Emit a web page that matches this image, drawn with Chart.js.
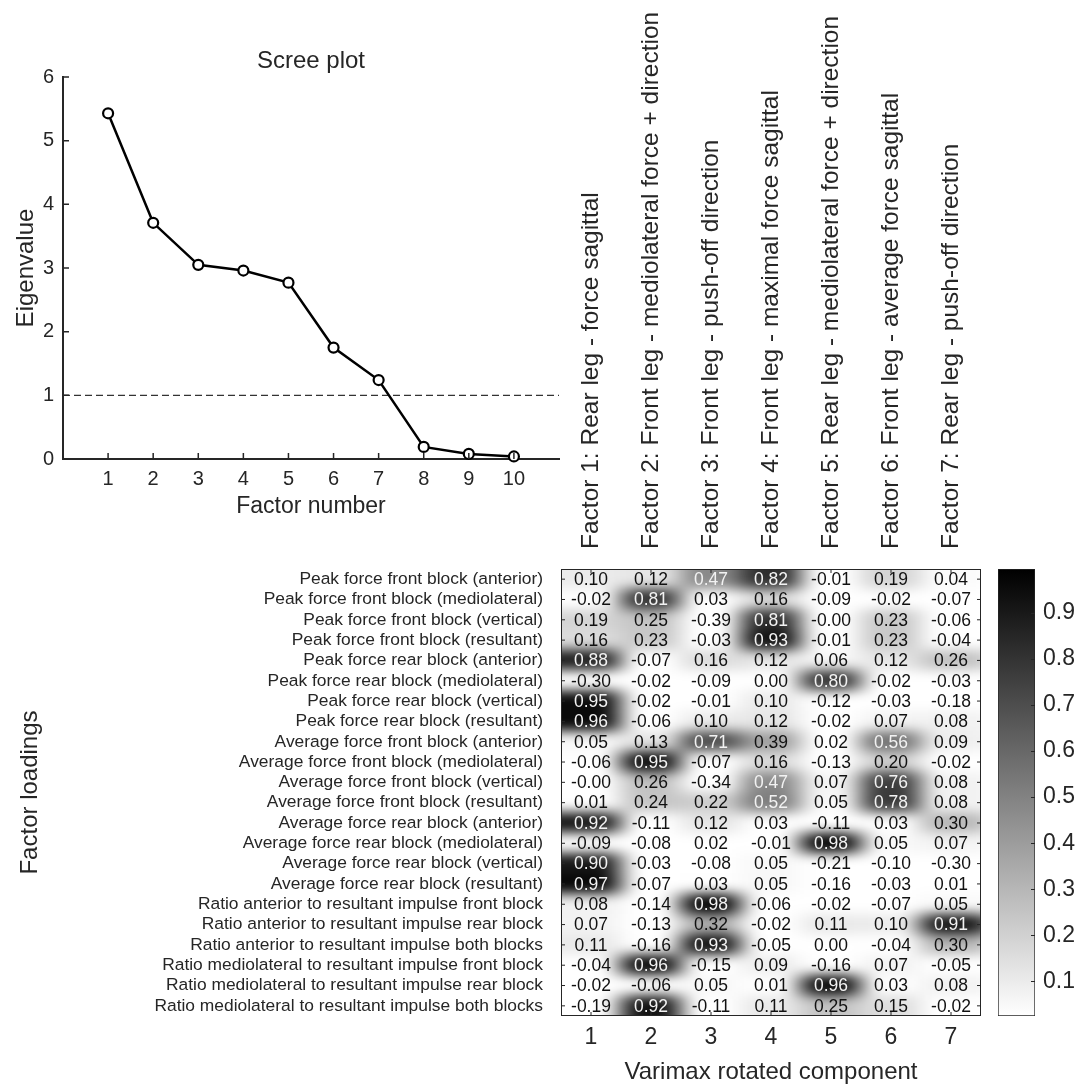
<!DOCTYPE html>
<html>
<head>
<meta charset="utf-8">
<script src="https://cdn.jsdelivr.net/npm/chart.js@4.4.1/dist/chart.umd.min.js"></script>
<style>
  html, body { margin: 0; padding: 0; background: #fff; overflow: hidden; }
  #page { position: relative; width: 1086px; height: 1084px; }
  canvas { position: absolute; }
</style>
</head>
<body>
<div id="page">
  <canvas id="heat" width="990" height="1100" style="left:0;top:0"></canvas>
  <canvas id="cbar" width="96" height="500" style="left:990px;top:540px"></canvas>
  <canvas id="scree" width="570" height="530" style="left:0;top:0"></canvas>
</div>
<script>
// scree plot values
const factorNumbers = [1, 2, 3, 4, 5, 6, 7, 8, 9, 10];
const eigenvalues = [5.43, 3.71, 3.05, 2.96, 2.77, 1.75, 1.24, 0.19, 0.08, 0.04];
const kaiserLevel = 1;

// loadings heatmap
const components = ['1', '2', '3', '4', '5', '6', '7'];
const factorNames = [
  'Factor 1: Rear leg - force sagittal',
  'Factor 2: Front leg - mediolateral force + direction',
  'Factor 3: Front leg - push-off direction',
  'Factor 4: Front leg - maximal force sagittal',
  'Factor 5: Rear leg - mediolateral force + direction',
  'Factor 6: Front leg - average force sagittal',
  'Factor 7: Rear leg - push-off direction'
];
const variables = [
  'Peak force front block (anterior)',
  'Peak force front block (mediolateral)',
  'Peak force front block (vertical)',
  'Peak force front block (resultant)',
  'Peak force rear block (anterior)',
  'Peak force rear block (mediolateral)',
  'Peak force rear block (vertical)',
  'Peak force rear block (resultant)',
  'Average force front block (anterior)',
  'Average force front block (mediolateral)',
  'Average force front block (vertical)',
  'Average force front block (resultant)',
  'Average force rear block (anterior)',
  'Average force rear block (mediolateral)',
  'Average force rear block (vertical)',
  'Average force rear block (resultant)',
  'Ratio anterior to resultant impulse front block',
  'Ratio anterior to resultant impulse rear block',
  'Ratio anterior to resultant impulse both blocks',
  'Ratio mediolateral to resultant impulse front block',
  'Ratio mediolateral to resultant impulse rear block',
  'Ratio mediolateral to resultant impulse both blocks'
];
const loadings = [
  [0.10, 0.12, 0.47, 0.82, -0.01, 0.19, 0.04],
  [-0.02, 0.81, 0.03, 0.16, -0.09, -0.02, -0.07],
  [0.19, 0.25, -0.39, 0.81, -0.00, 0.23, -0.06],
  [0.16, 0.23, -0.03, 0.93, -0.01, 0.23, -0.04],
  [0.88, -0.07, 0.16, 0.12, 0.06, 0.12, 0.26],
  [-0.30, -0.02, -0.09, 0.00, 0.80, -0.02, -0.03],
  [0.95, -0.02, -0.01, 0.10, -0.12, -0.03, -0.18],
  [0.96, -0.06, 0.10, 0.12, -0.02, 0.07, 0.08],
  [0.05, 0.13, 0.71, 0.39, 0.02, 0.56, 0.09],
  [-0.06, 0.95, -0.07, 0.16, -0.13, 0.20, -0.02],
  [-0.00, 0.26, -0.34, 0.47, 0.07, 0.76, 0.08],
  [0.01, 0.24, 0.22, 0.52, 0.05, 0.78, 0.08],
  [0.92, -0.11, 0.12, 0.03, -0.11, 0.03, 0.30],
  [-0.09, -0.08, 0.02, -0.01, 0.98, 0.05, 0.07],
  [0.90, -0.03, -0.08, 0.05, -0.21, -0.10, -0.30],
  [0.97, -0.07, 0.03, 0.05, -0.16, -0.03, 0.01],
  [0.08, -0.14, 0.98, -0.06, -0.02, -0.07, 0.05],
  [0.07, -0.13, 0.32, -0.02, 0.11, 0.10, 0.91],
  [0.11, -0.16, 0.93, -0.05, 0.00, -0.04, 0.30],
  [-0.04, 0.96, -0.15, 0.09, -0.16, 0.07, -0.05],
  [-0.02, -0.06, 0.05, 0.01, 0.96, 0.03, 0.08],
  [-0.19, 0.92, -0.11, 0.11, 0.25, 0.15, -0.02]
];
const colorbarTicks = [0.1, 0.2, 0.3, 0.4, 0.5, 0.6, 0.7, 0.8, 0.9];
const CMIN = 0.025, CMAX = 0.995;

const ink = '#262626';
Chart.defaults.font.family = "'Liberation Sans', Arial, Helvetica, sans-serif";
Chart.defaults.color = ink;
Chart.defaults.animation = false;
Chart.defaults.plugins.legend.display = false;
Chart.defaults.plugins.tooltip.enabled = false;

function shade(v) {
    let t = (v - CMIN) / (CMAX - CMIN);
    t = Math.min(1, Math.max(0, t));
    let g = Math.round(255 * (1 - t));
    return 'rgb(' + g + ',' + g + ',' + g + ')';
}
function fmt(v) {
    return (v < 0 || Object.is(v, -0) ? '-' : '') + Math.abs(v).toFixed(2);
}

/////SCREE PLOT
const screeTicks = {
    id: 'screeTicks',
    afterDraw(chart) {
        const {ctx, chartArea: a, scales: {x, y}} = chart;
        ctx.save();
        ctx.strokeStyle = ink;
        ctx.lineWidth = 1.5;
        ctx.beginPath();
        x.ticks.forEach(t => {
            let px = x.getPixelForValue(t.value);
            ctx.moveTo(px, a.bottom); ctx.lineTo(px, a.bottom - 6);
        });
        y.ticks.forEach(t => {
            let py = y.getPixelForValue(t.value);
            ctx.moveTo(a.left, py); ctx.lineTo(a.left + 6, py);
        });
        ctx.stroke();
        ctx.restore();
    }
};

new Chart(document.getElementById('scree'), {
    type: 'line',
    data: {
        datasets: [{
            data: factorNumbers.map((f, i) => ({x: f, y: eigenvalues[i]})),
            borderColor: '#000',
            borderWidth: 2.5,
            pointRadius: 5,
            pointBorderWidth: 2.2,
            pointBackgroundColor: '#fff',
            pointBorderColor: '#000',
            clip: false
        }, {
            data: [{x: 0, y: kaiserLevel}, {x: 11, y: kaiserLevel}],
            borderColor: '#333',
            borderWidth: 1.2,
            borderDash: [7, 4],
            pointRadius: 0
        }]
    },
    options: {
        responsive: false,
        devicePixelRatio: 1,
        layout: {padding: {left: 0, right: 11, top: 0, bottom: 0}},
        plugins: {
            title: {
                display: true, text: 'Scree plot', fullSize: false, color: ink,
                font: {size: 24, weight: 'normal'}, padding: {top: 46.6, bottom: 1.6}
            }
        },
        scales: {
            x: {
                type: 'linear', min: 0, max: 11,
                afterBuildTicks: s => { s.ticks = factorNumbers.map(v => ({value: v})); },
                ticks: {font: {size: 20}, padding: 8, color: ink},
                grid: {display: false, drawTicks: false},
                border: {color: ink, width: 2},
                title: {display: true, text: 'Factor number', color: ink, font: {size: 23}, padding: {top: 0, bottom: 10}},
                afterFit: s => { s.height = 71; }
            },
            y: {
                min: 0, max: 6,
                ticks: {stepSize: 1, font: {size: 20}, padding: 9, color: ink},
                grid: {display: false, drawTicks: false},
                border: {color: ink, width: 2},
                title: {display: true, text: 'Eigenvalue', color: ink, font: {size: 24}, padding: {top: 11.6, bottom: 0}},
                afterFit: s => { s.width = 63; }
            }
        }
    },
    plugins: [screeTicks]
});
/////END SCREE PLOT

/////HEATMAP
let cells = [];
variables.forEach((name, r) => {
    components.forEach((c, j) => {
        cells.push({x: c, y: name, v: loadings[r][j], r: r, c: j});
    });
});

const heatCells = {
    id: 'heatCells',
    beforeDatasetsDraw(chart) {
        const {ctx, chartArea: a} = chart;
        const meta = chart.getDatasetMeta(0);
        const cw = (a.right - a.left) / components.length;
        const rh = (a.bottom - a.top) / variables.length;
        const W = chart.width, H = chart.height;
        const off = document.createElement('canvas');
        off.width = W; off.height = H;
        const o = off.getContext('2d');
        meta.data.forEach((el, i) => {
            const d = cells[i];
            let x0 = el.x - cw / 2 - 0.5, x1 = el.x + cw / 2 + 0.5;
            let y0 = el.y - rh / 2 - 0.5, y1 = el.y + rh / 2 + 0.5;
            if (d.c === 0) x0 -= 50;
            if (d.c === components.length - 1) x1 += 50;
            if (d.r === 0) y0 -= 30;
            if (d.r === variables.length - 1) y1 += 30;
            o.fillStyle = shade(d.v);
            o.fillRect(x0, y0, x1 - x0, y1 - y0);
        });
        // squeeze horizontally, blur, stretch back: wider smoothing along rows
        const half = document.createElement('canvas');
        half.width = Math.round(W / 2); half.height = H;
        const h = half.getContext('2d');
        h.filter = 'blur(6px)';
        h.drawImage(off, 0, 0, half.width, H);
        ctx.save();
        ctx.beginPath();
        ctx.rect(a.left, a.top, a.right - a.left, a.bottom - a.top);
        ctx.clip();
        ctx.imageSmoothingEnabled = true;
        ctx.imageSmoothingQuality = 'high';
        ctx.drawImage(half, 0, 0, W, H);
        ctx.restore();
    },
    afterDatasetsDraw(chart) {
        const ctx = chart.ctx;
        const meta = chart.getDatasetMeta(0);
        ctx.save();
        ctx.font = "17.5px 'Liberation Sans', Arial, sans-serif";
        ctx.textAlign = 'center';
        ctx.textBaseline = 'middle';
        meta.data.forEach((el, i) => {
            const v = cells[i].v;
            ctx.fillStyle = v >= 0.45 ? '#f2f2f2' : '#111';
            ctx.fillText(fmt(v), el.x, el.y + 1);
        });
        ctx.restore();
    }
};

const heatFrame = {
    id: 'heatFrame',
    afterDraw(chart) {
        const {ctx, chartArea: a, scales: {x, y}} = chart;
        ctx.save();
        ctx.strokeStyle = ink;
        ctx.lineWidth = 1;
        ctx.strokeRect(a.left + 0.5, a.top + 0.5, a.right - a.left - 1, a.bottom - a.top - 1);
        ctx.beginPath();
        components.forEach((c, i) => {
            let px = x.getPixelForTick(i);
            ctx.moveTo(px, a.bottom); ctx.lineTo(px, a.bottom - 4);
            ctx.moveTo(px, a.top); ctx.lineTo(px, a.top + 4);
        });
        variables.forEach((n, i) => {
            let py = y.getPixelForTick(i);
            ctx.moveTo(a.left, py); ctx.lineTo(a.left + 4, py);
            ctx.moveTo(a.right, py); ctx.lineTo(a.right - 4, py);
        });
        ctx.stroke();
        ctx.restore();
    }
};

const topFont = 24.5;
new Chart(document.getElementById('heat'), {
    type: 'scatter',
    data: {
        datasets: [{data: cells, pointRadius: 0, pointHoverRadius: 0, xAxisID: 'x', yAxisID: 'y'}]
    },
    options: {
        responsive: false,
        devicePixelRatio: 1,
        layout: {padding: {left: 0, right: 9, top: 0, bottom: 0}},
        scales: {
            x: {
                type: 'category', labels: components, position: 'bottom', offset: true,
                grid: {display: false, drawTicks: false}, border: {display: false},
                ticks: {font: {size: 23}, padding: 8, color: ink},
                title: {display: true, text: 'Varimax rotated component', color: ink, font: {size: 24}, padding: {top: 0, bottom: 13.6}},
                afterFit: s => { s.height = 84; }
            },
            xTop: {
                type: 'category', labels: factorNames, position: 'top', offset: true,
                grid: {display: false, drawTicks: false}, border: {display: false},
                ticks: {
                    font: {size: topFont}, minRotation: 90, maxRotation: 90, autoSkip: false,
                    padding: 20, labelOffset: topFont * 1.2, color: ink
                },
                afterFit: s => { s.height = 569; }
            },
            y: {
                type: 'category', labels: variables, offset: true,
                grid: {display: false, drawTicks: false}, border: {display: false},
                ticks: {font: {size: 17.4}, autoSkip: false, padding: 18, color: ink},
                title: {display: true, text: 'Factor loadings', color: ink, font: {size: 24}, padding: {top: 15.6, bottom: 0}},
                afterFit: s => { s.width = 561; }
            }
        }
    },
    plugins: [heatCells, heatFrame]
});
/////END HEATMAP

/////COLORBAR
const cbarTicks = {
    id: 'cbarTicks',
    afterDraw(chart) {
        const {ctx, chartArea: a, scales: {y}} = chart;
        ctx.save();
        ctx.strokeStyle = ink;
        ctx.lineWidth = 1;
        ctx.beginPath();
        y.ticks.forEach(t => {
            let py = Math.round(y.getPixelForValue(t.value)) + 0.5;
            ctx.moveTo(a.right, py); ctx.lineTo(a.right - 4, py);
        });
        ctx.stroke();
        ctx.restore();
    }
};

new Chart(document.getElementById('cbar'), {
    type: 'bar',
    data: {
        labels: ['loading'],
        datasets: [{
            data: [[CMIN, CMAX]],
            backgroundColor: c => {
                const a = c.chart.chartArea;
                if (!a) return '#888';
                const g = c.chart.ctx.createLinearGradient(0, a.top, 0, a.bottom);
                g.addColorStop(0, shade(CMAX));
                g.addColorStop(1, shade(CMIN));
                return g;
            },
            borderColor: ink,
            borderWidth: 1,
            borderSkipped: false,
            barPercentage: 1,
            categoryPercentage: 1
        }]
    },
    options: {
        responsive: false,
        devicePixelRatio: 1,
        layout: {padding: {left: 8, top: 29, bottom: 24, right: 0}},
        scales: {
            x: {display: false},
            y: {
                position: 'right', min: CMIN, max: CMAX,
                afterBuildTicks: s => { s.ticks = colorbarTicks.map(v => ({value: v})); },
                grid: {display: false, drawTicks: false}, border: {display: false},
                ticks: {font: {size: 23}, padding: 8, color: ink},
                afterFit: s => { s.width = 51; }
            }
        }
    },
    plugins: [cbarTicks]
});
/////END COLORBAR
</script>
</body>
</html>
